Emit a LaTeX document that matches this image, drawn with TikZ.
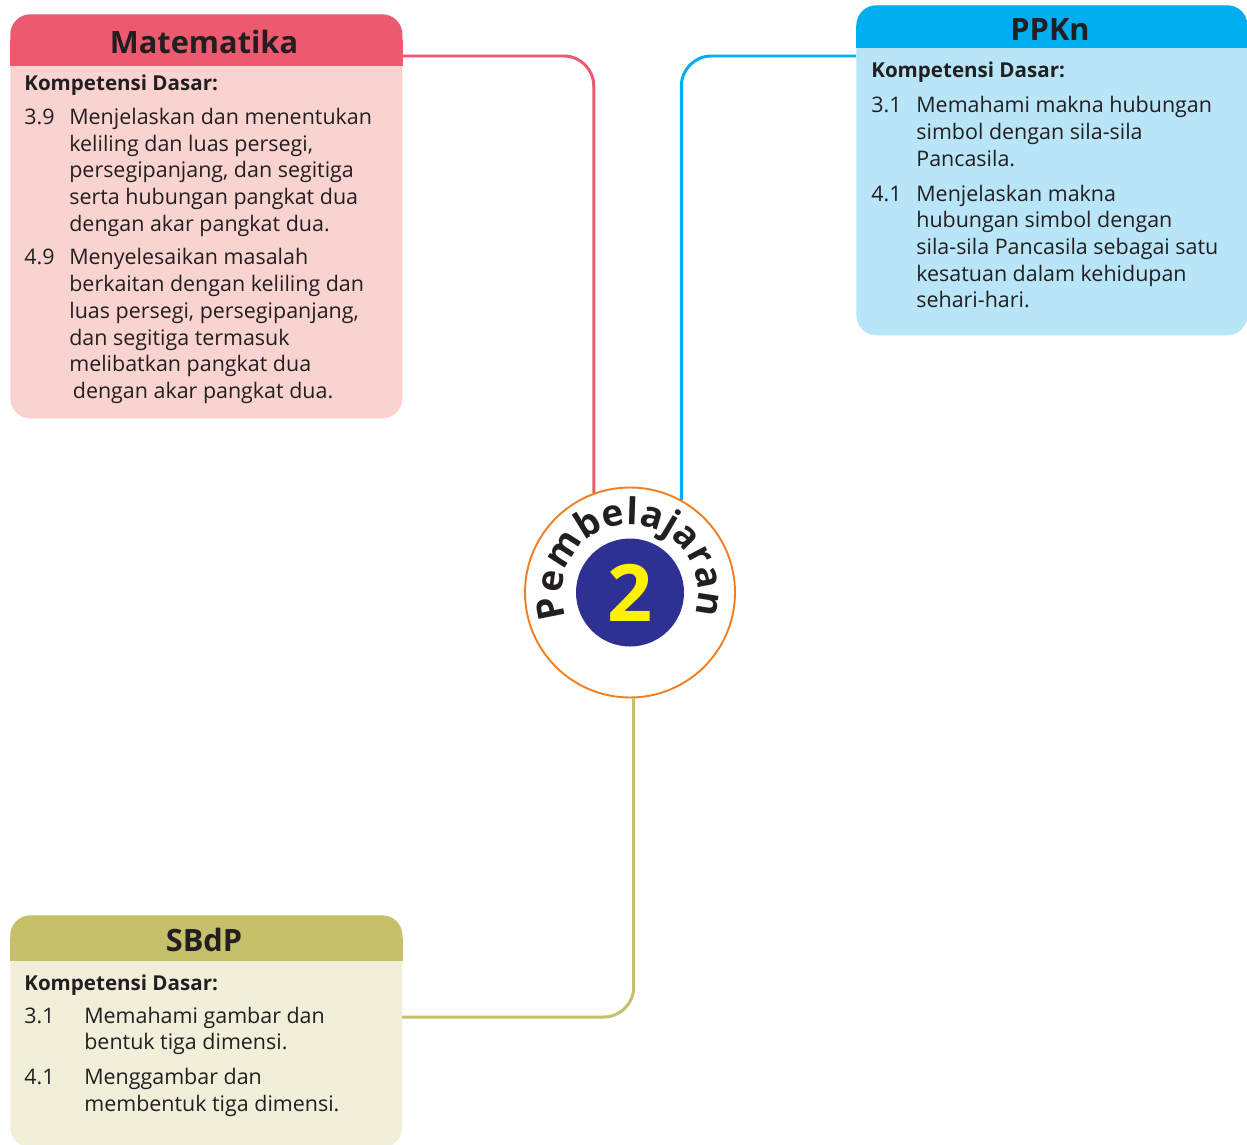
\documentclass[tikz,border=0pt]{standalone}
\usepackage{fontspec}
\setmainfont{Open Sans}
\usepackage{tikz}
\usetikzlibrary{positioning, calc, decorations.text}

\definecolor{matHead}{HTML}{EC5A70}
\definecolor{matBody}{HTML}{F9D3D0}
\definecolor{ppkHead}{HTML}{00AEEF}
\definecolor{ppkBody}{HTML}{B9E5F9}
\definecolor{sbdHead}{HTML}{C7C06A}
\definecolor{sbdBody}{HTML}{F1EEDA}
\definecolor{ringOrange}{HTML}{F08022}
\definecolor{navy}{HTML}{2E3192}
\definecolor{numYellow}{HTML}{FFF200}
\definecolor{ink}{HTML}{231F20}

\newcommand{\bodyfont}{\fontsize{12.2}{15.2}\selectfont}
\newcommand{\kdtitle}{\multicolumn{2}{@{}l}{\bfseries\fontsize{11.7}{15.2}\selectfont Kompetensi Dasar:}}

\begin{document}
\begin{tikzpicture}[
    box/.style={rounded corners=0.4cm, anchor=north west, inner sep=0pt, minimum width=7.84cm},
    head/.style={rounded corners=0.4cm, anchor=north, inner sep=0pt, minimum width=7.84cm},
    title/.style={text=ink, inner sep=0pt, font=\bfseries\fontsize{17.5}{17.5}\selectfont},
    body/.style={text=ink, inner sep=0pt, anchor=base west, font=\bodyfont},
    link/.style={line width=1.7pt, rounded corners=0.6cm}
  ]
  \useasboundingbox (0,0) rectangle (24.94,-22.9);

  % Matematika
  \node[box, fill=matBody, minimum height=8.08cm] (mat) at (0.2,-0.28) {};
  \node[head, fill=matHead, minimum height=1.02cm] (mathead) at (mat.north) {};
  \fill[matHead] (mathead.west) rectangle (mathead.south east);
  \node[title] at (4.08,-0.84) {Matematika};
  \node[body] (matkd) at (0.48,-1.82) {\begin{tabular}[t]{@{}p{0.9cm}@{}l@{}}
    \kdtitle\\[3.8pt]
    3.9 & Menjelaskan dan menentukan\\
        & keliling dan luas persegi,\\
        & persegipanjang, dan segitiga\\
        & serta hubungan pangkat dua\\
        & dengan akar pangkat dua.\\[4pt]
    4.9 & Menyelesaikan masalah\\
        & berkaitan dengan keliling dan\\
        & luas persegi, persegipanjang,\\
        & dan segitiga termasuk\\
        & melibatkan pangkat dua\\
        & \hspace{2pt}dengan akar pangkat dua.
  \end{tabular}};

  % PPKn
  \node[box, fill=ppkBody, minimum width=7.82cm, minimum height=6.6cm] (ppk) at (17.12,-0.1) {};
  \node[head, fill=ppkHead, minimum width=7.82cm, minimum height=0.84cm] (ppkhead) at (ppk.north) {};
  \fill[ppkHead] (ppkhead.west) rectangle (ppkhead.south east);
  \node[title] at (21.0,-0.59) {PPKn};
  \node[body] (ppkkd) at (17.42,-1.56) {\begin{tabular}[t]{@{}p{0.9cm}@{}l@{}}
    \kdtitle\\[4.6pt]
    3.1 & Memahami makna hubungan\\
        & simbol dengan sila-sila\\
        & Pancasila.\\[4.6pt]
    4.1 & Menjelaskan makna\\
        & hubungan simbol dengan\\
        & sila-sila Pancasila sebagai satu\\
        & kesatuan dalam kehidupan\\
        & sehari-hari.
  \end{tabular}};

  % SBdP
  \node[box, fill=sbdBody, minimum height=4.64cm] (sbd) at (0.2,-18.3) {};
  \node[head, fill=sbdHead, minimum height=0.9cm] (sbdhead) at (sbd.north) {};
  \fill[sbdHead] (sbdhead.west) rectangle (sbdhead.south east);
  \node[title] at (4.08,-18.8) {SBdP};
  \node[body] (sbdkd) at (0.48,-19.8) {\begin{tabular}[t]{@{}p{1.2cm}@{}l@{}}
    \kdtitle\\[3.6pt]
    3.1 & Memahami gambar dan\\
        & bentuk tiga dimensi.\\[4.8pt]
    4.1 & Menggambar dan\\
        & membentuk tiga dimensi.
  \end{tabular}};

  % Pembelajaran 2
  \node[circle, draw=ringOrange, line width=1.1pt, fill=white, minimum size=4.2cm] (ring) at (12.6,-11.85) {};
  \node[circle, fill=navy, text=numYellow, inner sep=0pt, minimum size=2.16cm,
        font=\bfseries\fontsize{45}{45}\selectfont] (core) at (ring) {2};
  \path[decorate, decoration={text along path, text align=fit to path,
        text={|\bfseries\fontsize{21}{21}\selectfont\color{ink}|Pembelajaran}}]
    ($(ring.center)+(201:1.36)$) arc[start angle=201, end angle=-19, radius=1.36];

  % links
  \coordinate (matout) at (8.04,-1.12);
  \coordinate (ppkout) at (17.12,-1.12);
  \coordinate (sbdout) at (8.04,-20.34);
  \draw[link, matHead] (matout) -| (ring.110.6);
  \draw[link, ppkHead] (ppkout) -| (ring.61.6);
  \draw[link, sbdHead] (sbdout) -| (ring.272.2);
\end{tikzpicture}
\end{document}
